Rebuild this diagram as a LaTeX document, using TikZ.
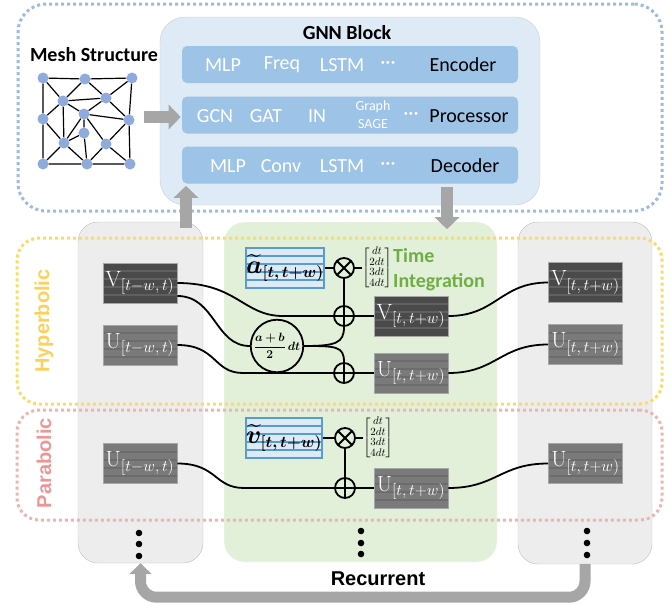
\RequirePackage{fix-cm}
\documentclass[tikz,border=0pt]{standalone}
\usepackage[no-math]{fontspec}
\setmainfont{Carlito}
\newfontfamily\arialfont{Liberation Sans}
\usepackage{amsmath,bm}
\usepackage{tikz}
\usetikzlibrary{positioning,shapes,arrows,arrows.meta}
\definecolor{dotblue}{RGB}{157,187,225}
\definecolor{gnnfill}{RGB}{222,235,247}
\definecolor{rowblue}{RGB}{157,195,230}
\definecolor{meshblue}{RGB}{143,170,220}
\definecolor{arrowgrey}{RGB}{166,166,166}
\definecolor{colgrey}{RGB}{237,237,237}
\definecolor{colgreen}{RGB}{226,240,217}
\definecolor{dotyellow}{RGB}{255,217,102}
\definecolor{dotpink}{RGB}{240,178,178}
\definecolor{hyptext}{RGB}{252,208,90}
\definecolor{partext}{RGB}{236,150,150}
\definecolor{vgrey}{RGB}{74,74,74}
\definecolor{vline}{RGB}{96,96,96}
\definecolor{ugrey}{RGB}{122,122,122}
\definecolor{uline}{RGB}{108,108,108}
\definecolor{boxblue}{RGB}{91,155,213}
\definecolor{boxlight}{RGB}{221,235,247}
\definecolor{tigreen}{RGB}{112,173,71}
\newcommand{\fieldlab}[2]{$\mathrm{#1}_{\hbox{\fontsize{16}{16}\selectfont\medmuskip=0mu$#2$}}$}
\newcommand{\ratelab}[2]{$\bm{\widetilde{#1}}_{\hbox{\fontsize{16}{16}\selectfont\medmuskip=0mu$\bm{#2}$}}$}
\newcommand{\steplab}{$\left[\begin{array}{@{}c@{}}dt\\2dt\\3dt\\4dt\end{array}\right]$}
\tikzset{stripes/.style={path picture={\foreach \s in {8pt,16pt,24pt,32pt} \draw[#1, line width=2pt] ([yshift=-\s]path picture bounding box.north west) -- ([yshift=-\s]path picture bounding box.north east);}}}
\tikzstyle{meshnode} = [circle, fill=meshblue, minimum size=11pt, inner sep=0pt]
\tikzstyle{meshedge} = [line width=1.2pt]
\tikzstyle{dotgroup} = [rectangle, draw, line width=3pt, dash pattern=on 3pt off 3pt, inner sep=0pt]
\tikzstyle{colbox} = [rectangle, rounded corners=20pt, inner sep=0pt]
\tikzstyle{gnnrow} = [rectangle, fill=rowblue, rounded corners=5pt, minimum width=336pt, minimum height=37pt]
\tikzstyle{method} = [text=white, font=\fontsize{20}{22}\selectfont, inner sep=0pt]
\tikzstyle{stage} = [text=black, font=\fontsize{20}{22}\selectfont, inner sep=0pt]
\tikzstyle{heading} = [font=\bfseries\fontsize{20}{22}\selectfont, inner sep=0pt]
\tikzstyle{field} = [rectangle, draw=gray!70, line width=0.6pt, minimum width=74pt, minimum height=40pt, inner sep=0pt, text=white, font=\fontsize{22}{24}\selectfont]
\tikzstyle{vfield} = [field, fill=vgrey, stripes=vline]
\tikzstyle{ufield} = [field, fill=ugrey, stripes=uline]
\tikzstyle{accel} = [rectangle, draw=boxblue, line width=1.5pt, fill=boxlight, minimum width=74pt, minimum height=40pt, inner sep=0pt, font=\fontsize{26}{28}\selectfont, stripes=boxblue]
\tikzstyle{sumnode} = [circle, draw, line width=1.8pt, minimum size=20pt, inner sep=0pt, path picture={\draw[line width=1.8pt] (path picture bounding box.north) -- (path picture bounding box.south) (path picture bounding box.west) -- (path picture bounding box.east);}]
\tikzstyle{prodnode} = [circle, draw, line width=1.8pt, minimum size=20pt, inner sep=0pt, path picture={\draw[line width=1.8pt] (path picture bounding box.north west) -- (path picture bounding box.south east) (path picture bounding box.south west) -- (path picture bounding box.north east);}]
\tikzstyle{avgnode} = [circle, draw, line width=1.8pt, minimum size=46pt, inner sep=0pt, font=\fontsize{12}{13}\selectfont]
\tikzstyle{steps} = [inner sep=0pt, font=\fontsize{11}{9.5}\selectfont]
\tikzstyle{link} = [line width=1.8pt]
\tikzstyle{bigarrow} = [arrowgrey, line width=12pt, -{Triangle[length=12pt,width=24pt]}]
\tikzstyle{recurarrow} = [arrowgrey, line width=11pt, rounded corners=16pt, -{Triangle[length=11pt,width=22pt]}]
\tikzstyle{sidelabel} = [rotate=90, inner sep=0pt, font=\arialfont\bfseries\fontsize{20}{22}\selectfont]
\begin{document}
\begin{tikzpicture}[x=1pt, y=-1pt, >=latex']
		\useasboundingbox (0,0) rectangle (671,605);
		\node (meshgrp) [dotgroup, draw=dotblue, rounded corners=28pt, minimum width=644pt, minimum height=207pt] at (340,107.5) {};
		
		\node (gnn) [rectangle, fill=gnnfill, draw=gray!40, rounded corners=25pt, minimum width=380pt, minimum height=188pt] at (350,111) {};
		\node (gnnt) [heading] at (347,33) {GNN Block};
		\node (enc) [gnnrow] at (350,64.5) {};
		\node (pro) [gnnrow] at (350,115) {};
		\node (dec) [gnnrow] at (350,165) {};
		\node (emlp) [method] at (223,65) {MLP};
		\node (efreq) [method] at (282,65) {Freq};
		\node (elstm) [method] at (342,65) {LSTM};
		\node (edots) [method] at (388,65) {\textperiodcentered\textperiodcentered\textperiodcentered};
		\node (encl) [stage] at (463,65) {Encoder};
		\node (pgcn) [method] at (215,116) {GCN};
		\node (pgat) [method] at (266,116) {GAT};
		\node (pin) [method] at (317,116) {IN};
		\node (psage) [method, align=center, font=\fontsize{14}{18}\selectfont] at (373,115) {Graph\\SAGE};
		\node (pdots) [method] at (411,116) {\textperiodcentered\textperiodcentered\textperiodcentered};
		\node (prol) [stage] at (469,116) {Processor};
		\node (dmlp) [method] at (228,166) {MLP};
		\node (dconv) [method] at (281,166) {Conv};
		\node (dlstm) [method] at (342,166) {LSTM};
		\node (ddots) [method] at (388,166) {\textperiodcentered\textperiodcentered\textperiodcentered};
		\node (decl) [stage] at (465,166) {Decoder};
		
		\node (mesht) [heading] at (94,55) {Mesh Structure};
		\node (m1) [meshnode] at (43,78) {};
		\node (m2) [meshnode] at (85,79) {};
		\node (m3) [meshnode] at (132,78) {};
		\node (m4) [meshnode] at (63,101) {};
		\node (m5) [meshnode] at (106,98) {};
		\node (m6) [meshnode] at (84,114) {};
		\node (m7) [meshnode] at (43,119) {};
		\node (m8) [meshnode] at (129,120) {};
		\node (m9) [meshnode] at (84,133) {};
		\node (m10) [meshnode] at (64,143) {};
		\node (m11) [meshnode] at (106,144) {};
		\node (m12) [meshnode] at (43,164) {};
		\node (m13) [meshnode] at (87,164) {};
		\node (m14) [meshnode] at (130,164) {};
		\draw [meshedge] (m1) -- (m2) -- (m3) -- (m8) -- (m14) -- (m13) -- (m12) -- (m7) -- (m1);
		\draw [meshedge] (m1) -- (m4) -- (m2) -- (m5) -- (m3);
		\draw [meshedge] (m4) -- (m5) -- (m6) -- (m4) -- (m7);
		\draw [meshedge] (m4) -- (m10) -- (m6) -- (m9) -- (m10);
		\draw [meshedge] (m5) -- (m8) -- (m6) -- (m11) -- (m8);
		\draw [meshedge] (m7) -- (m10) -- (m12);
		\draw [meshedge] (m10) -- (m13) -- (m9);
		\draw [meshedge] (m13) -- (m11) -- (m14);
		
		\node (lcol) [colbox, fill=colgrey, draw=gray!50, minimum width=125pt, minimum height=341pt] at (140.5,392.5) {};
		\node (mcol) [colbox, fill=colgreen, draw=white, minimum width=273pt, minimum height=340pt] at (360.5,392) {};
		\node (rcol) [colbox, fill=colgrey, draw=gray!50, minimum width=134pt, minimum height=342pt] at (585,393) {};
		
		\node (hyper) [dotgroup, draw=dotyellow, rounded corners=22pt, minimum width=645pt, minimum height=166pt] at (339.5,321) {};
		\node (para) [dotgroup, draw=dotpink, rounded corners=22pt, minimum width=645pt, minimum height=110pt] at (339.5,465) {};
		\node (hypt) [sidelabel, text=hyptext] at (44,321) {Hyperbolic};
		\node (part) [sidelabel, text=partext] at (44,463) {Parabolic};
		
		\node (lv) [vfield] at (140,283) {\fieldlab{V}{[t-w,t)}};
		\node (lu) [ufield] at (140,345) {\fieldlab{U}{[t-w,t)}};
		\node (lpu) [ufield] at (140,463.5) {\fieldlab{U}{[t-w,t)}};
		
		\node (acc) [accel] at (285,268) {\ratelab{a}{[t,t+w)}};
		\node (aprod) [prodnode] at (344,268) {};
		\node (asteps) [steps, right=7pt of aprod] {\steplab};
		\node (vsum) [sumnode] at (344,316) {};
		\node (usum) [sumnode] at (344,373) {};
		\node (avg) [avgnode] at (277,346) {$\displaystyle\frac{\bm{a+b}}{\bm{2}}\,\bm{dt}$};
		\node (mv) [vfield] at (411,316) {\fieldlab{V}{[t,t+w)}};
		\node (mu) [ufield] at (411,373) {\fieldlab{U}{[t,t+w)}};
		\node (ti) [anchor=west, align=left, inner sep=0pt, text=tigreen, font=\bfseries\fontsize{20}{25}\selectfont] at (393,269.5) {Time\\Integration};
		\node (rv) [vfield] at (585.5,282.5) {\fieldlab{V}{[t,t+w)}};
		\node (ru) [ufield] at (585.5,344.5) {\fieldlab{U}{[t,t+w)}};
		
		\node (vel) [accel] at (284,438) {\ratelab{v}{[t,t+w)}};
		\node (vprod) [prodnode] at (345,438) {};
		\node (vsteps) [steps, right=7pt of vprod] {\steplab};
		\node (psum) [sumnode] at (345,488) {};
		\node (pmu) [ufield] at (411,488) {\fieldlab{U}{[t,t+w)}};
		\node (pru) [ufield] at (585.5,463.5) {\fieldlab{U}{[t,t+w)}};
		
		\draw [link] (lv.east) .. controls +(60,0) and +(-40,0) .. ([xshift=-50pt]vsum.west) -- (vsum.west);
		\draw [link] ([yshift=-13pt]lv.east) .. controls +(38,0) and +(-35,0) .. (avg.west);
		\draw [link] (lu.east) .. controls +(40,0) and +(-30,0) .. ([xshift=-90pt]usum.west) -- (usum.west);
		\draw [link] (avg.east) .. controls +(32,0) and +(0,16) .. (vsum.south);
		\draw [link] (avg.east) .. controls +(32,0) and +(0,-16) .. (usum.north);
		\draw [link] (acc.east) -- (aprod.west);
		\draw [link] (aprod.east) -- (asteps.west);
		\draw [link] (aprod.south) -- (vsum.north);
		\draw [link] (vsum.east) -- (mv.west);
		\draw [link] (usum.east) -- (mu.west);
		\draw [link] (mv.east) .. controls +(48,0) and +(-48,0) .. (rv.west);
		\draw [link] (mu.east) .. controls +(48,0) and +(-48,0) .. (ru.west);
		
		\draw [link] (lpu.east) .. controls +(40,0) and +(-30,0) .. ([xshift=-90pt]psum.west) -- (psum.west);
		\draw [link] (vel.east) -- (vprod.west);
		\draw [link] (vprod.east) -- (vsteps.west);
		\draw [link] (vprod.south) -- (psum.north);
		\draw [link] (psum.east) -- (pmu.west);
		\draw [link] (pmu.east) .. controls +(48,0) and +(-48,0) .. (pru.west);
		
		\fill (139,533) circle [radius=3.3pt] (139,544) circle [radius=3.3pt] (139,556) circle [radius=3.3pt];
		\fill (361,531) circle [radius=3.3pt] (361,543) circle [radius=3.3pt] (361,554) circle [radius=3.3pt];
		\fill (587,531) circle [radius=3.3pt] (587,543) circle [radius=3.3pt] (587,555) circle [radius=3.3pt];
		
		\draw [bigarrow] ([xshift=9pt,yshift=3pt]m8.east) -- ++(37,0);
		\draw [bigarrow] ([xshift=45.5pt,yshift=-6pt]lcol.north) -- ++(0,-42);
		\draw [bigarrow] ([xshift=97pt,yshift=18pt]gnn.south) -- ++(0,42);
		\draw [recurarrow] (rcol.south) -- ++(0,33) -| (lcol.south);
		\node (rec) [font=\arialfont\bfseries\fontsize{20}{22}\selectfont, inner sep=0pt] at (378,579) {Recurrent};
	\end{tikzpicture}
\end{document}
